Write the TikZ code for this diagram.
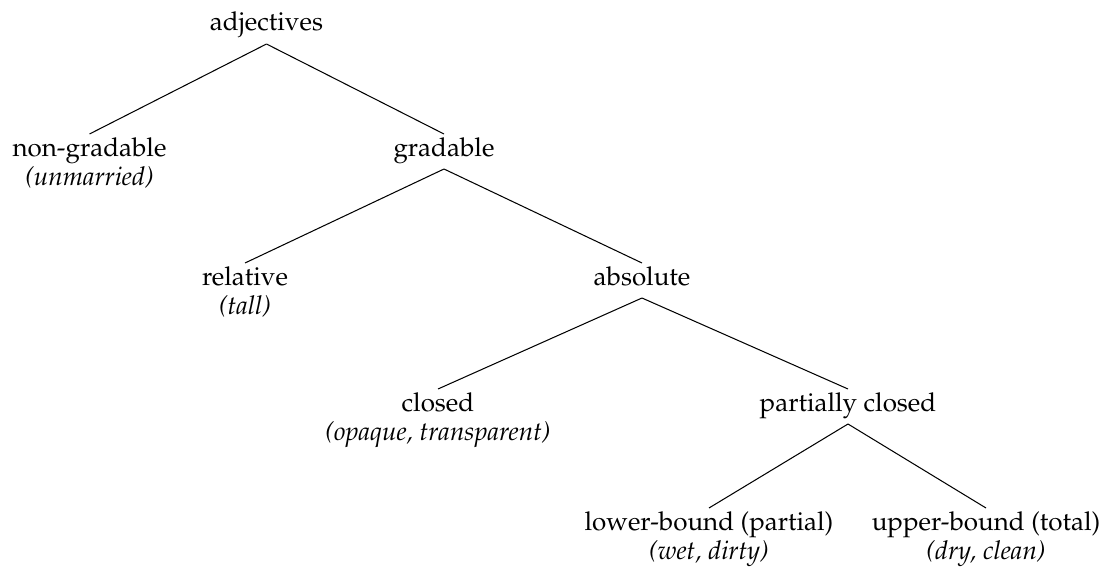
\documentclass[tikz,border=0pt]{standalone}
\usepackage[T1]{fontenc}
\usepackage{mathpazo}
\usetikzlibrary{calc}
\begin{document}
\begin{tikzpicture}[x=0.385pt,y=-0.385pt,
  lbl/.style={anchor=base,inner sep=0pt,font=\fontsize{10}{12}\selectfont},
  ex/.style={lbl,font=\fontsize{10}{12}\selectfont\itshape},
  edge/.style={line width=0.4pt}]
\useasboundingbox (0,0) rectangle (1104,568);
% category labels (placed by baseline)
\node[lbl] (adj)     at (266.5,31)  {adjectives};
\node[lbl] (nongrad) at (89.5,156)  {non-gradable};
\node[ex]  (nongradx) at (89.5,185) {(unmarried)};
\node[lbl] (grad)    at (444,156)   {gradable};
\node[lbl] (rel)     at (245,285)   {relative};
\node[ex]  (relx)    at (245,314)   {(tall)};
\node[lbl] (abs)     at (642,285)   {absolute};
\node[lbl] (closed)  at (438,411)   {closed};
\node[ex]  (closedx) at (438,440)   {(opaque, transparent)};
\node[lbl] (pclosed) at (848,411)   {partially closed};
\node[lbl] (lower)   at (709,530)   {lower-bound (partial)};
\node[ex]  (lowerx)  at (709,559)   {(wet, dirty)};
\node[lbl] (upper)   at (986,530)   {upper-bound (total)};
\node[ex]  (upperx)  at (986,559)   {(dry, clean)};
% branches: from just under the parent to just above the child
\foreach \p/\c in {adj/nongrad, adj/grad, grad/rel, grad/abs,
                   abs/closed, abs/pclosed, pclosed/lower, pclosed/upper}
  \draw[edge] ($(\p.base)+(0,13)$) -- ($(\c.base)+(0,-22)$);
\end{tikzpicture}
\end{document}
